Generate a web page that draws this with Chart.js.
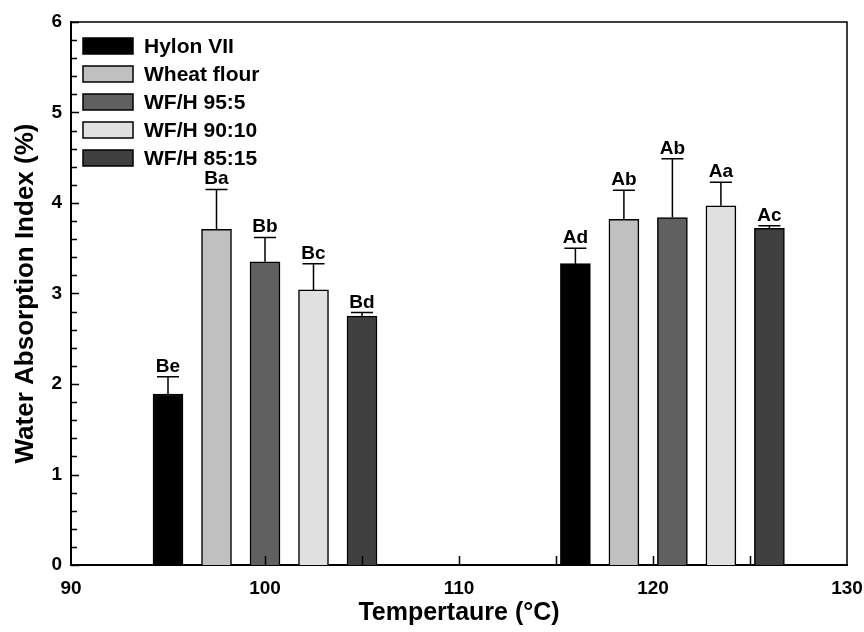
<!DOCTYPE html>
<html>
<head>
<meta charset="utf-8">
<script src="https://cdn.jsdelivr.net/npm/chart.js@4.4.1/dist/chart.umd.min.js"></script>
<style>
  html, body { margin: 0; padding: 0; background: #fff; }
  #wrap { width: 864px; height: 632px; }
</style>
</head>
<body>
<div id="wrap"><canvas id="chart"></canvas></div>
<script>
// Water absorption index, two temperature groups
const seriesNames = ['Hylon VII', 'Wheat flour', 'WF/H 95:5', 'WF/H 90:10', 'WF/H 85:15'];
const seriesColors = ['#000000', '#c0c0c0', '#606060', '#e0e0e0', '#404040'];

const xLow = [95, 97.5, 100, 102.5, 105];
const waiLow = [1.89, 3.71, 3.35, 3.04, 2.75];
const sdLow = [0.19, 0.44, 0.27, 0.29, 0.04];
const lettersLow = ['Be', 'Ba', 'Bb', 'Bc', 'Bd'];

const xHigh = [116, 118.5, 121, 123.5, 126];
const waiHigh = [3.33, 3.82, 3.84, 3.97, 3.72];
const sdHigh = [0.17, 0.32, 0.65, 0.26, 0.03];
const lettersHigh = ['Ad', 'Ab', 'Ab', 'Aa', 'Ac'];

const xTicks = [90, 100, 110, 120, 130];
const yTicks = [0, 1, 2, 3, 4, 5, 6];

const FONT = 'Arial, "Liberation Sans", sans-serif';

const datasets = seriesNames.map((name, i) => ({
    label: name,
    data: [
        { x: xLow[i], y: waiLow[i], sd: sdLow[i], letter: lettersLow[i] },
        { x: xHigh[i], y: waiHigh[i], sd: sdHigh[i], letter: lettersHigh[i] }
    ],
    backgroundColor: seriesColors[i],
    borderColor: '#000',
    borderWidth: 1.5,
    barThickness: 30,
    grouped: false
}));

// error bars + letters above them
const errorBars = {
    id: 'errorBars',
    afterDatasetsDraw(chart) {
        const ctx = chart.ctx;
        const yScale = chart.scales.y;
        ctx.save();
        ctx.strokeStyle = '#000';
        ctx.lineWidth = 1.5;
        ctx.fillStyle = '#000';
        ctx.font = 'bold 19px ' + FONT;
        ctx.textAlign = 'center';
        ctx.textBaseline = 'alphabetic';
        chart.data.datasets.forEach((ds, di) => {
            const meta = chart.getDatasetMeta(di);
            meta.data.forEach((bar, j) => {
                const d = ds.data[j];
                const top = yScale.getPixelForValue(d.y + d.sd);
                ctx.beginPath();
                ctx.moveTo(bar.x, bar.y);
                ctx.lineTo(bar.x, top);
                ctx.moveTo(bar.x - 11, top);
                ctx.lineTo(bar.x + 11, top);
                ctx.stroke();
                ctx.fillText(d.letter, bar.x, top - 5);
            });
        });
        ctx.restore();
    }
};

// frame, inward ticks and the legend box
const frame = {
    id: 'frame',
    afterDraw(chart) {
        const ctx = chart.ctx;
        const { left, right, top, bottom } = chart.chartArea;
        const xs = chart.scales.x, ys = chart.scales.y;
        ctx.save();
        ctx.strokeStyle = '#000';
        ctx.lineWidth = 1.5;
        ctx.beginPath();
        ctx.moveTo(left, top);
        ctx.lineTo(right, top);
        ctx.lineTo(right, bottom);
        ctx.stroke();

        ctx.lineWidth = 1.5;
        ctx.beginPath();
        for (let v = 0; v <= 6.001; v += 0.2) {
            const py = Math.round(ys.getPixelForValue(v)) + 0.5;
            const major = Math.abs(v - Math.round(v)) < 0.01;
            ctx.moveTo(left, py);
            ctx.lineTo(left + (major ? 8 : 6), py);
        }
        for (let v = 95; v < 130; v += 5) {
            const px = Math.round(xs.getPixelForValue(v)) + 0.5;
            ctx.moveTo(px, bottom);
            ctx.lineTo(px, bottom - 9);
        }
        ctx.stroke();

        // legend
        ctx.font = 'bold 21px ' + FONT;
        ctx.textAlign = 'left';
        ctx.textBaseline = 'middle';
        chart.data.datasets.forEach((ds, i) => {
            const cy = 46 + i * 28;
            ctx.fillStyle = ds.backgroundColor;
            ctx.fillRect(83, cy - 8, 50, 16);
            ctx.strokeStyle = '#000';
            ctx.lineWidth = 1.5;
            ctx.strokeRect(83, cy - 8, 50, 16);
            ctx.fillStyle = '#000';
            ctx.fillText(ds.label, 144, cy + 1);
        });
        ctx.restore();
    }
};

new Chart(document.getElementById('chart'), {
    type: 'bar',
    data: { datasets },
    options: {
        responsive: true,
        maintainAspectRatio: false,
        animation: false,
        layout: { padding: { top: 22, right: 17, left: 0, bottom: 0 } },
        plugins: {
            legend: { display: false },
            tooltip: { enabled: false }
        },
        scales: {
            x: {
                type: 'linear',
                min: 90,
                max: 130,
                offset: false,
                afterBuildTicks: (scale) => { scale.ticks = xTicks.map(v => ({ value: v })); },
                ticks: { color: '#000', padding: 12, font: { family: FONT, size: 19, weight: 'bold' } },
                grid: { display: false, drawTicks: false, offset: false },
                border: { display: true, color: '#000', width: 2 },
                title: {
                    display: true,
                    text: 'Tempertaure (\u00B0C)',
                    color: '#000',
                    padding: { top: 4, bottom: 4 },
                    font: { family: FONT, size: 25, weight: 'bold', lineHeight: 1.2 }
                },
                afterFit: (scale) => {
                    scale.height = 67;
                    scale.paddingLeft = 0;
                    scale.paddingRight = 0;
                }
            },
            y: {
                min: 0,
                max: 6,
                afterBuildTicks: (scale) => { scale.ticks = yTicks.map(v => ({ value: v })); },
                ticks: { color: '#000', padding: 9, font: { family: FONT, size: 19, weight: 'bold' } },
                grid: { display: false, drawTicks: false },
                border: { display: true, color: '#000', width: 2 },
                title: {
                    display: true,
                    text: 'Water Absorption Index (%)',
                    color: '#000',
                    padding: { top: 10, bottom: 10 },
                    font: { family: FONT, size: 26, weight: 'bold', lineHeight: 1.2 }
                },
                afterFit: (scale) => { scale.width = 71; }
            }
        }
    },
    plugins: [errorBars, frame]
});
</script>
</body>
</html>
